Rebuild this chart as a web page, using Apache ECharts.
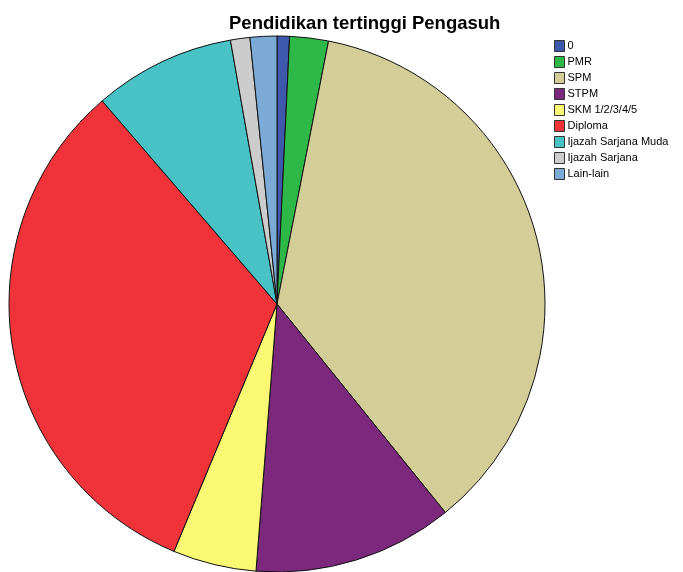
<!DOCTYPE html>
<html><head><meta charset="utf-8">
<script src="https://cdn.jsdelivr.net/npm/echarts@6/dist/echarts.min.js"></script>
<style>html,body{margin:0;padding:0;background:#fff}#c{width:683px;height:572px}</style>
</head><body><div id="c"></div>
<script>
const categories = ['0','PMR','SPM','STPM','SKM 1/2/3/4/5','Diploma','Ijazah Sarjana Muda','Ijazah Sarjana','Lain-lain'];
const percents = [0.75,2.33,36.1,12.06,5.03,32.4,8.53,1.17,1.61];
const colors = ['#3E58AC','#2EB848','#D3CE97','#7C287D','#FBF873','#EF3338','#48C2C5','#CCCCCC','#7BAAD6'];
const chart = echarts.init(document.getElementById('c'));
chart.setOption({
  animation:false,
  title:{text:'Pendidikan tertinggi Pengasuh',left:224,top:9,
    textStyle:{fontFamily:'Liberation Sans',fontSize:18.5,fontWeight:'bold',color:'#000'}},
  legend:{orient:'vertical',left:549,top:35,itemWidth:10,itemHeight:11,itemGap:4,icon:'rect',
    itemStyle:{borderColor:'#333',borderWidth:1},
    textStyle:{fontFamily:'Liberation Sans',fontSize:11,color:'#000',padding:[0,0,0,-2]},
    data:categories},
  series:[{type:'pie',center:[277,304],radius:268,startAngle:90,clockwise:true,
    label:{show:false},labelLine:{show:false},emphasis:{disabled:true},silent:true,
    itemStyle:{borderColor:'#111',borderWidth:1},
    data:categories.map((c,i)=>({name:c,value:percents[i],itemStyle:{color:colors[i]}}))}]
});
</script></body></html>
